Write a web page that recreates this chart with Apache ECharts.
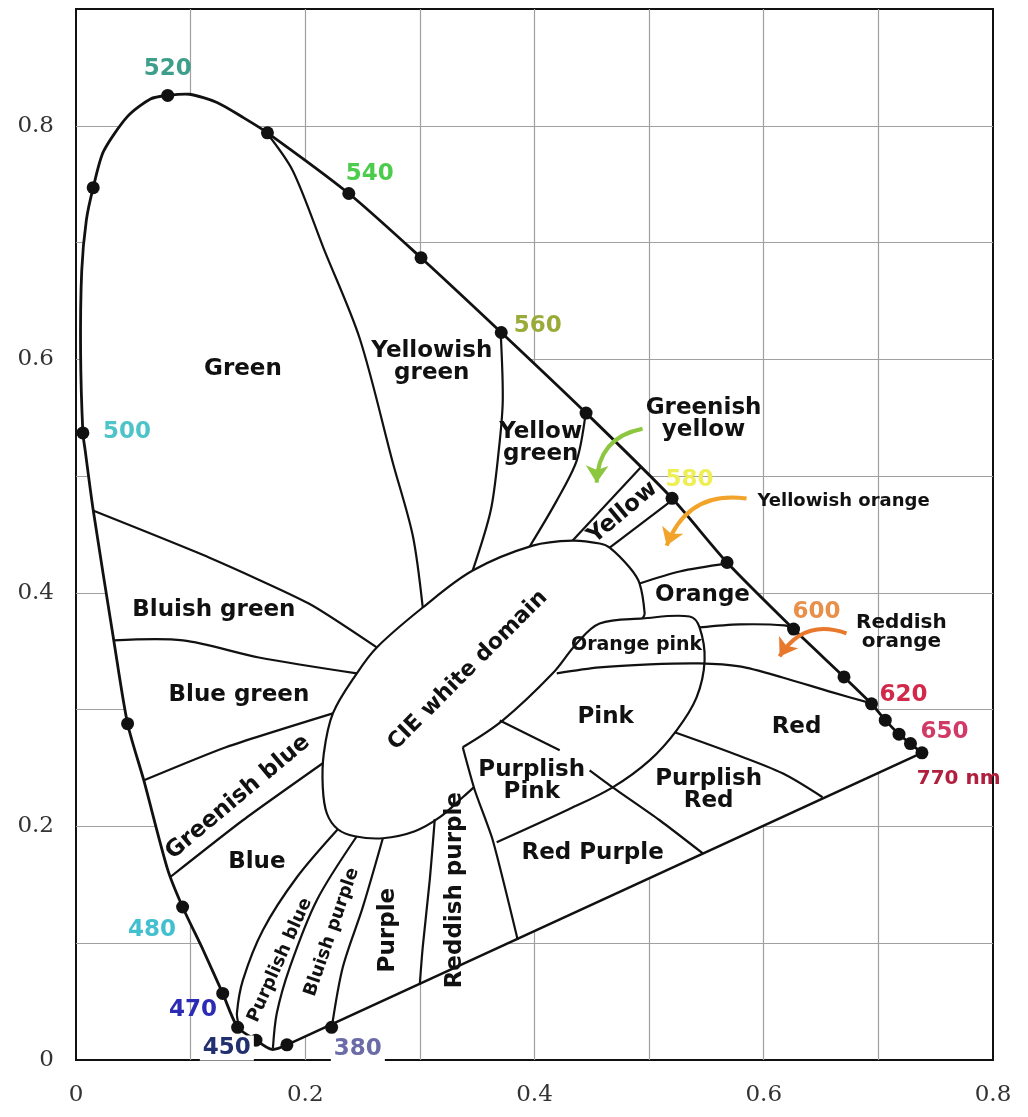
<!DOCTYPE html>
<html>
<head>
<meta charset="utf-8">
<script src="https://cdn.jsdelivr.net/npm/echarts@6/dist/echarts.min.js"></script>
<style>
  html, body { margin: 0; padding: 0; background: #fff; }
  #chart { width: 1028px; height: 1117px; }
</style>
</head>
<body>
<div id="chart"></div>
<script>
// ---- CIE 1931 chromaticity diagram with colour-name regions ----

// Axis ticks that carry a label (grid lines are every 0.1)
const xTickLabels = [0, 0.2, 0.4, 0.6, 0.8];
const yTickLabels = [0, 0.2, 0.4, 0.6, 0.8];

// Spectral locus, from the violet end around to the red end
const spectralLocus = [
  [0.184, 0.013], [0.171, 0.009], [0.157, 0.017], [0.141, 0.028], [0.128, 0.057],
  [0.111, 0.094], [0.093, 0.131], [0.080, 0.163], [0.059, 0.240], [0.045, 0.288],
  [0.033, 0.359], [0.015, 0.471], [0.008, 0.522], [0.006, 0.537], [0.004, 0.607],
  [0.005, 0.676], [0.009, 0.719], [0.015, 0.747], [0.024, 0.778], [0.045, 0.808],
  [0.065, 0.823], [0.080, 0.826], [0.099, 0.827], [0.123, 0.820], [0.146, 0.807],
  [0.167, 0.794], [0.238, 0.742], [0.301, 0.687], [0.371, 0.623], [0.445, 0.554],
  [0.520, 0.481], [0.568, 0.426], [0.626, 0.369], [0.670, 0.328], [0.694, 0.305],
  [0.706, 0.291], [0.718, 0.279], [0.728, 0.271], [0.738, 0.263]
];

// Line of purples
const purpleLine = [[0.184, 0.013], [0.738, 0.263]];

// Marked wavelengths on the locus
const spectralDots = [
  [0.184, 0.013], [0.157, 0.017], [0.141, 0.028], [0.128, 0.057], [0.093, 0.131],
  [0.045, 0.288], [0.006, 0.537], [0.015, 0.747], [0.080, 0.826], [0.167, 0.794],
  [0.238, 0.742], [0.301, 0.687], [0.371, 0.623], [0.445, 0.554], [0.520, 0.481],
  [0.568, 0.426], [0.626, 0.369], [0.670, 0.328], [0.694, 0.305], [0.706, 0.291],
  [0.718, 0.279], [0.728, 0.271], [0.738, 0.263], [0.223, 0.028]
];

// Central domains
const whiteDomain = [
  [0.3470, 0.2335], [0.3374, 0.2250], [0.3174, 0.2079], [0.2956, 0.1959], [0.2677, 0.1899],
  [0.2432, 0.1916], [0.2284, 0.1976], [0.2188, 0.2113], [0.2153, 0.2335], [0.2162, 0.2626],
  [0.2241, 0.2968], [0.2450, 0.3311], [0.2624, 0.3533], [0.3025, 0.3875], [0.3461, 0.4192],
  [0.3984, 0.4405], [0.4333, 0.4448], [0.4568, 0.4423], [0.4656, 0.4388], [0.4830, 0.4217],
  [0.4917, 0.4080], [0.4961, 0.3824], [0.4943, 0.3781]
];
const pinkDomain = [
  [0.3374, 0.2678], [0.3723, 0.2908], [0.4159, 0.3311], [0.4368, 0.3567], [0.4568, 0.3738],
  [0.4943, 0.3781], [0.5353, 0.3798], [0.5440, 0.3704], [0.5484, 0.3422], [0.5414, 0.3105],
  [0.5240, 0.2823], [0.5004, 0.2566], [0.4682, 0.2335], [0.4281, 0.2139], [0.3670, 0.1865]
];

// Borders between the named regions
const greenYellowishGreen = [[0.1665, 0.7938], [0.1892, 0.7613], [0.2162, 0.6946], [0.2476, 0.6176], [0.2764, 0.5115], [0.2938, 0.4491], [0.3025, 0.3875]];
const yellowishGreenYellowGreen = [[0.3705, 0.6228], [0.3723, 0.5646], [0.3688, 0.5218], [0.3618, 0.4705], [0.3461, 0.4192]];
const yellowGreenGreenishYellow = [[0.4446, 0.5535], [0.4368, 0.5133], [0.4194, 0.4790], [0.3958, 0.4397]];
const yellowUpper = [[0.4926, 0.5073], [0.4333, 0.4448]];
const yellowLower = [[0.5196, 0.4790], [0.4656, 0.4388]];
const orangeUpper = [[0.5684, 0.4252], [0.5266, 0.4183], [0.4917, 0.4080]];
const orangeLower = [[0.5440, 0.3704], [0.5789, 0.3730], [0.6181, 0.3721], [0.6260, 0.3687]];
const redUpper = [[0.4194, 0.3311], [0.4568, 0.3362], [0.5004, 0.3388], [0.5440, 0.3396], [0.5789, 0.3370], [0.6164, 0.3276], [0.6600, 0.3148], [0.6940, 0.3054]];
const redLower = [[0.5222, 0.2806], [0.5728, 0.2626], [0.6164, 0.2455], [0.6513, 0.2250]];
const pinkPurplishPink = [[0.3697, 0.2908], [0.4220, 0.2652]];
const purplishRedRedPurple = [[0.4481, 0.2481], [0.4682, 0.2335], [0.5092, 0.2053], [0.5466, 0.1771]];
const reddishPurpleEdge = [[0.3374, 0.2678], [0.3479, 0.2310], [0.3636, 0.1882], [0.3854, 0.1027]];
const purpleReddishPurple = [[0.3130, 0.2062], [0.3086, 0.1540], [0.3025, 0.0967], [0.2999, 0.0642]];
const bluishPurplePurple = [[0.2677, 0.1899], [0.2502, 0.1309], [0.2328, 0.0796], [0.2232, 0.0282]];
const purplishBlueBluishPurple = [[0.2450, 0.1916], [0.2101, 0.1369], [0.1866, 0.0796], [0.1752, 0.0402], [0.1718, 0.0103]];
const bluePurplishBlue = [[0.2284, 0.1976], [0.1927, 0.1565], [0.1630, 0.1112], [0.1456, 0.0684], [0.1404, 0.0402], [0.1420, 0.0300]];
const greenishBlueBlue = [[0.0820, 0.1565], [0.1456, 0.2053], [0.2153, 0.2541]];
const blueGreenGreenishBlue = [[0.0593, 0.2395], [0.1308, 0.2678], [0.2241, 0.2968]];
const bluishGreenBlueGreen = [[0.0331, 0.3593], [0.0933, 0.3593], [0.1595, 0.3447], [0.2450, 0.3311]];
const greenBluishGreen = [[0.0148, 0.4705], [0.1160, 0.4303], [0.2031, 0.3909], [0.2624, 0.3533]];

// Region names and where they sit
const regionNames = [
  'Green', 'Yellowish\ngreen', 'Yellow\ngreen', 'Greenish\nyellow', 'Yellow',
  'Yellowish orange', 'Orange', 'Reddish\norange', 'Orange pink', 'Pink', 'Red',
  'Purplish\nRed', 'Purplish\nPink', 'Red Purple', 'Reddish purple', 'Purple',
  'Bluish purple', 'Purplish blue', 'Blue', 'Greenish blue', 'Blue green',
  'Bluish green', 'CIE white domain'
];
const regionAnchors = [
  [0.1456, 0.5920], [0.3104, 0.5979], [0.4054, 0.5287], [0.5475, 0.5492], [0.4769, 0.4688],
  [0.6696, 0.4782], [0.5466, 0.3978], [0.7201, 0.3661], [0.4891, 0.3550], [0.4621, 0.2934], [0.6286, 0.2849],
  [0.5519, 0.2310], [0.3976, 0.2387], [0.4507, 0.1771], [0.3304, 0.1454], [0.2720, 0.1112],
  [0.2232, 0.1095], [0.1779, 0.0855], [0.1578, 0.1694], [0.1412, 0.2250], [0.1421, 0.3122],
  [0.1203, 0.3849], [0.3418, 0.3336]
];

// Wavelength labels (nm)
const wavelengthNames = ['520', '540', '560', '500', '580', '600', '620', '650', '770 nm', '480', '470', '450', '380'];
const wavelengthAnchors = [
  [0.080, 0.8486], [0.2563, 0.7588], [0.4028, 0.6287], [0.0445, 0.5381], [0.5353, 0.4970],
  [0.6460, 0.3832], [0.7219, 0.3122], [0.7576, 0.2806], [0.7700, 0.2412], [0.0663, 0.1112],
  [0.1020, 0.0428], [0.1316, 0.0103], [0.2459, 0.0094]
];

// Pointer arrows for the narrow regions
const arrowNames = ['Greenish yellow', 'Yellowish orange', 'Reddish orange'];
const arrowFrom = [[0.4943, 0.5406], [0.5850, 0.4808], [0.6722, 0.3653]];
const arrowTo = [[0.4542, 0.4944], [0.5153, 0.4405], [0.6138, 0.3456]];

// ---- styling ----
const INK = '#111';
const labelFont = '"DejaVu Sans", "Liberation Sans", sans-serif';

const regionStyle = {
  'Yellow': { size: 23, rot: 40 },
  'Yellowish orange': { size: 18, rot: 0 },
  'Reddish\norange': { size: 20, rot: 0 },
  'Orange pink': { size: 19, rot: 0 },
  'Reddish purple': { size: 23, rot: 90 },
  'Purple': { size: 23, rot: 90 },
  'Bluish purple': { size: 18, rot: 71 },
  'Purplish blue': { size: 18, rot: 66 },
  'Greenish blue': { size: 23, rot: 40 },
  'CIE white domain': { size: 22, rot: 45 }
};
const wavelengthColors = {
  '520': '#3d9f8a', '540': '#4ccc4c', '560': '#9aab3a', '500': '#4fc4c8', '580': '#eeee55',
  '600': '#e8904a', '620': '#d2284a', '650': '#d23a66', '770 nm': '#b0203e', '480': '#43c0d0',
  '470': '#2b2bb5', '450': '#233070', '380': '#6b6ba8'
};
const wavelengthSize = { '770 nm': 20 };
const arrowColors = ['#8dc63f', '#f2a32a', '#e8792c'];

const regionBorders = [
  { pts: greenYellowishGreen, smooth: 0.3 },
  { pts: yellowishGreenYellowGreen, smooth: 0.3 },
  { pts: yellowGreenGreenishYellow, smooth: 0.3 },
  { pts: yellowUpper, smooth: 0 },
  { pts: yellowLower, smooth: 0 },
  { pts: orangeUpper, smooth: 0.3 },
  { pts: orangeLower, smooth: 0.3 },
  { pts: redUpper, smooth: 0.3 },
  { pts: redLower, smooth: 0.3 },
  { pts: pinkPurplishPink, smooth: 0 },
  { pts: purplishRedRedPurple, smooth: 0.2 },
  { pts: reddishPurpleEdge, smooth: 0.2 },
  { pts: purpleReddishPurple, smooth: 0.3 },
  { pts: bluishPurplePurple, smooth: 0.3 },
  { pts: purplishBlueBluishPurple, smooth: 0.3 },
  { pts: bluePurplishBlue, smooth: 0.3 },
  { pts: greenishBlueBlue, smooth: 0.2 },
  { pts: blueGreenGreenishBlue, smooth: 0.2 },
  { pts: bluishGreenBlueGreen, smooth: 0.3 },
  { pts: greenBluishGreen, smooth: 0.2 },
  { pts: whiteDomain, smooth: 0.35 },
  { pts: pinkDomain, smooth: 0.35 }
];

function project(api, pts) {
  return pts.map(function (p) { return api.coord(p); });
}

// Locus interior (white, hides the grid), outline and all region borders
function renderDiagram(params, api) {
  const children = [];
  children.push({
    type: 'polygon',
    shape: { points: project(api, spectralLocus) },
    style: { fill: '#fff', stroke: null }
  });
  regionBorders.forEach(function (b) {
    children.push({
      type: 'polyline',
      shape: { points: project(api, b.pts), smooth: b.smooth },
      style: { fill: null, stroke: INK, lineWidth: 2.2 }
    });
  });
  children.push({
    type: 'polyline',
    shape: { points: project(api, spectralLocus), smooth: 0.25 },
    style: { fill: null, stroke: INK, lineWidth: 2.8 }
  });
  children.push({
    type: 'polyline',
    shape: { points: project(api, purpleLine) },
    style: { fill: null, stroke: INK, lineWidth: 2.6 }
  });
  return { type: 'group', children: children };
}

function renderRegionLabels(params, api) {
  const children = regionNames.map(function (name, i) {
    const st = regionStyle[name] || { size: 23, rot: 0 };
    const p = api.coord(regionAnchors[i]);
    return {
      type: 'text',
      x: p[0], y: p[1],
      rotation: st.rot * Math.PI / 180,
      style: {
        text: name,
        fill: INK,
        fontFamily: labelFont,
        fontWeight: 'bold',
        fontSize: st.size,
        lineHeight: Math.round(st.size * 0.95),
        align: 'center',
        verticalAlign: 'middle'
      }
    };
  });
  return { type: 'group', children: children };
}

function renderWavelengths(params, api) {
  const children = wavelengthNames.map(function (name, i) {
    const p = api.coord(wavelengthAnchors[i]);
    const boxed = (name === '450' || name === '380');
    return {
      type: 'text',
      x: p[0], y: p[1],
      style: {
        text: name,
        fill: wavelengthColors[name],
        fontFamily: labelFont,
        fontWeight: 'bold',
        fontSize: wavelengthSize[name] || 23,
        align: 'center',
        verticalAlign: 'middle',
        backgroundColor: boxed ? '#fff' : null,
        padding: boxed ? [1, 3] : 0
      }
    };
  });
  return { type: 'group', children: children };
}

const tickFormatter = function (shown) {
  return function (v) {
    const r = Math.round(v * 10) / 10;
    return shown.some(function (s) { return Math.abs(s - r) < 1e-9; }) ? String(r) : '';
  };
};

const chart = echarts.init(document.getElementById('chart'), null, { renderer: 'canvas' });

chart.setOption({
  animation: false,
  backgroundColor: '#fff',
  grid: {
    left: 76, right: 35, top: 9, bottom: 57,
    show: true, borderColor: INK, borderWidth: 2, backgroundColor: 'transparent'
  },
  xAxis: {
    type: 'value', min: 0, max: 0.8, interval: 0.1,
    axisLine: { show: false }, axisTick: { show: false },
    splitLine: { show: true, showMinLine: false, showMaxLine: false, lineStyle: { color: '#a0a0a0', width: 1.2 } },
    axisLabel: {
      formatter: tickFormatter(xTickLabels), margin: 24,
      fontFamily: '"DejaVu Serif", "Liberation Serif", serif', fontSize: 23, color: '#333'
    }
  },
  yAxis: {
    type: 'value', min: 0, max: 0.9, interval: 0.1,
    axisLine: { show: false }, axisTick: { show: false },
    splitLine: { show: true, showMinLine: false, showMaxLine: false, lineStyle: { color: '#a0a0a0', width: 1.2 } },
    axisLabel: {
      formatter: tickFormatter(yTickLabels), margin: 22,
      fontFamily: '"DejaVu Serif", "Liberation Serif", serif', fontSize: 23, color: '#333'
    }
  },
  series: [
    {
      type: 'custom', name: 'diagram', silent: true, z: 2,
      data: [[0, 0]], renderItem: renderDiagram
    },
    {
      type: 'lines', name: 'pointers', coordinateSystem: 'cartesian2d', silent: true, z: 3,
      symbol: ['none', 'arrow'], symbolSize: 17,
      lineStyle: { width: 4, opacity: 1, curveness: -0.4 },
      data: arrowNames.map(function (n, i) {
        return { name: n, coords: [arrowFrom[i], arrowTo[i]], lineStyle: { color: arrowColors[i] } };
      })
    },
    {
      type: 'scatter', name: 'wavelength marks', silent: true, z: 4,
      symbol: 'circle', symbolSize: 13,
      itemStyle: { color: INK, opacity: 1 },
      data: spectralDots
    },
    {
      type: 'custom', name: 'region labels', silent: true, z: 5,
      data: [[0, 0]], renderItem: renderRegionLabels
    },
    {
      type: 'custom', name: 'wavelength labels', silent: true, z: 6,
      data: [[0, 0]], renderItem: renderWavelengths
    }
  ]
});
</script>
</body>
</html>
